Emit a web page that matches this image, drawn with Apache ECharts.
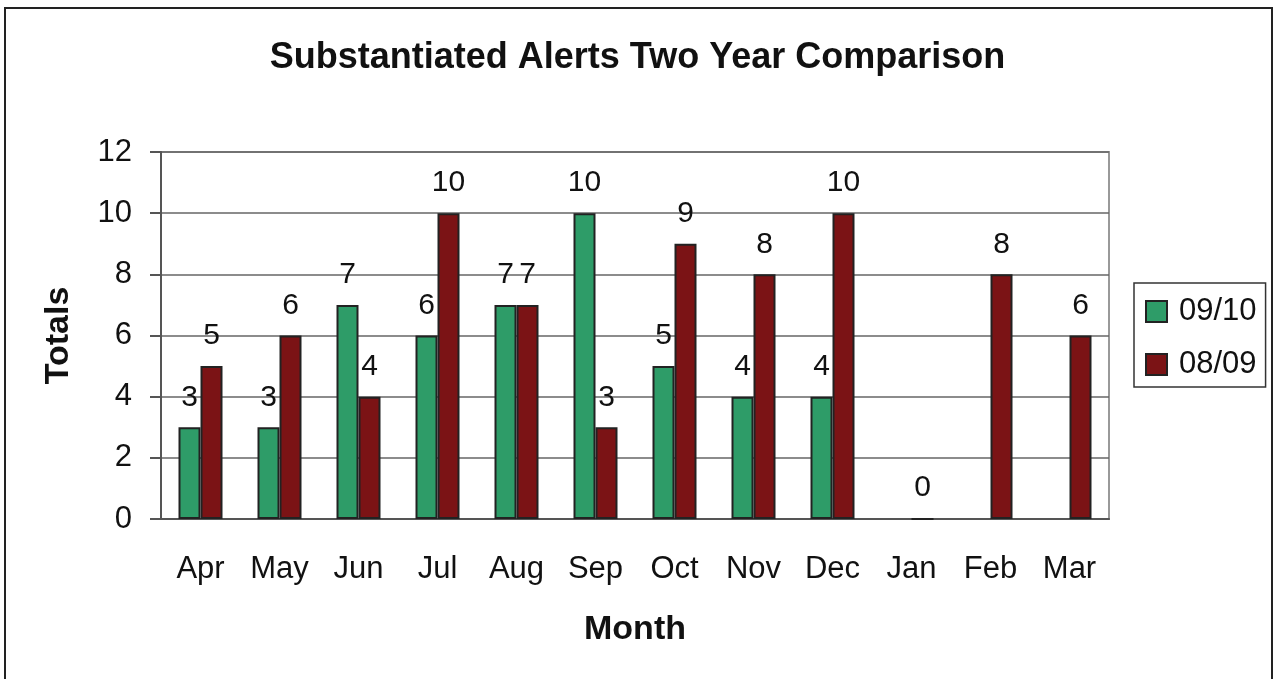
<!DOCTYPE html>
<html>
<head>
<meta charset="utf-8">
<script src="https://cdn.jsdelivr.net/npm/echarts@6/dist/echarts.min.js"></script>
<style>
  html, body { margin: 0; padding: 0; background: #fff; }
  #chart { width: 1275px; height: 679px; }
</style>
</head>
<body>
<div id="chart"></div>
<script>
const months = ['Apr', 'May', 'Jun', 'Jul', 'Aug', 'Sep', 'Oct', 'Nov', 'Dec', 'Jan', 'Feb', 'Mar'];
const year0910 = [3, 3, 7, 6, 7, 10, 5, 4, 4, null, null, null];
const year0809 = [5, 6, 4, 10, 7, 3, 9, 8, 10, 0, 8, 6];
const yTicks = [0, 2, 4, 6, 8, 10, 12];

const font = 'Liberation Sans, Arial, sans-serif';
const chart = echarts.init(document.getElementById('chart'), null, { renderer: 'canvas' });

const barLabel = {
  show: true,
  position: 'top',
  distance: 15,
  fontSize: 30,
  fontFamily: font,
  color: '#111'
};

chart.setOption({
  animation: false,
  backgroundColor: '#fff',
  graphic: [{
    type: 'rect',
    shape: { x: 5, y: 8, width: 1267, height: 700 },
    style: { fill: 'none', stroke: '#222', lineWidth: 2 }
  }],
  title: {
    text: 'Substantiated Alerts Two Year Comparison',
    left: 'center',
    top: 35,
    textStyle: { fontSize: 36, fontWeight: 'bold', fontFamily: font, color: '#111' }
  },
  legend: {
    orient: 'vertical',
    left: 1134,
    top: 283,
    padding: [13, 9, 7, 11],
    itemWidth: 21,
    itemHeight: 21,
    itemGap: 22,
    borderColor: '#333',
    borderWidth: 1.5,
    icon: 'rect',
    textStyle: { fontSize: 31, fontFamily: font, color: '#111', padding: [0, 0, 0, 7] },
    data: ['09/10', '08/09']
  },
  grid: {
    left: 161, right: 166, top: 152, bottom: 160,
    show: true, borderColor: '#999', borderWidth: 2
  },
  xAxis: {
    type: 'category',
    data: months,
    name: 'Month',
    nameLocation: 'middle',
    nameGap: 94,
    nameTextStyle: { fontSize: 34, fontWeight: 'bold', fontFamily: font, color: '#111' },
    axisLine: { lineStyle: { color: '#555', width: 2 } },
    axisTick: { length: 11, lineStyle: { color: '#555', width: 2 } },
    axisLabel: { margin: 35, fontSize: 31, fontFamily: font, color: '#111' }
  },
  yAxis: {
    type: 'value',
    min: yTicks[0],
    max: yTicks[yTicks.length - 1],
    interval: 2,
    name: 'Totals',
    nameLocation: 'middle',
    nameGap: 85,
    nameRotate: 90,
    nameTextStyle: { fontSize: 34, fontWeight: 'bold', fontFamily: font, color: '#111' },
    axisLine: { show: true, lineStyle: { color: '#555', width: 2 } },
    axisTick: { show: true, length: 11, lineStyle: { color: '#555', width: 2 } },
    axisLabel: { margin: 29, fontSize: 31, fontFamily: font, color: '#111' },
    splitLine: { lineStyle: { color: '#666', width: 1.5 } }
  },
  series: [
    {
      name: '09/10',
      type: 'bar',
      data: year0910,
      barWidth: 22,
      barGap: '0%',
      itemStyle: { color: '#2e9c68', borderColor: '#222', borderWidth: 2 },
      label: barLabel
    },
    {
      name: '08/09',
      type: 'bar',
      data: year0809,
      barWidth: 22,
      barGap: '0%',
      itemStyle: { color: '#7b1315', borderColor: '#222', borderWidth: 2 },
      label: barLabel
    }
  ]
});
</script>
</body>
</html>
